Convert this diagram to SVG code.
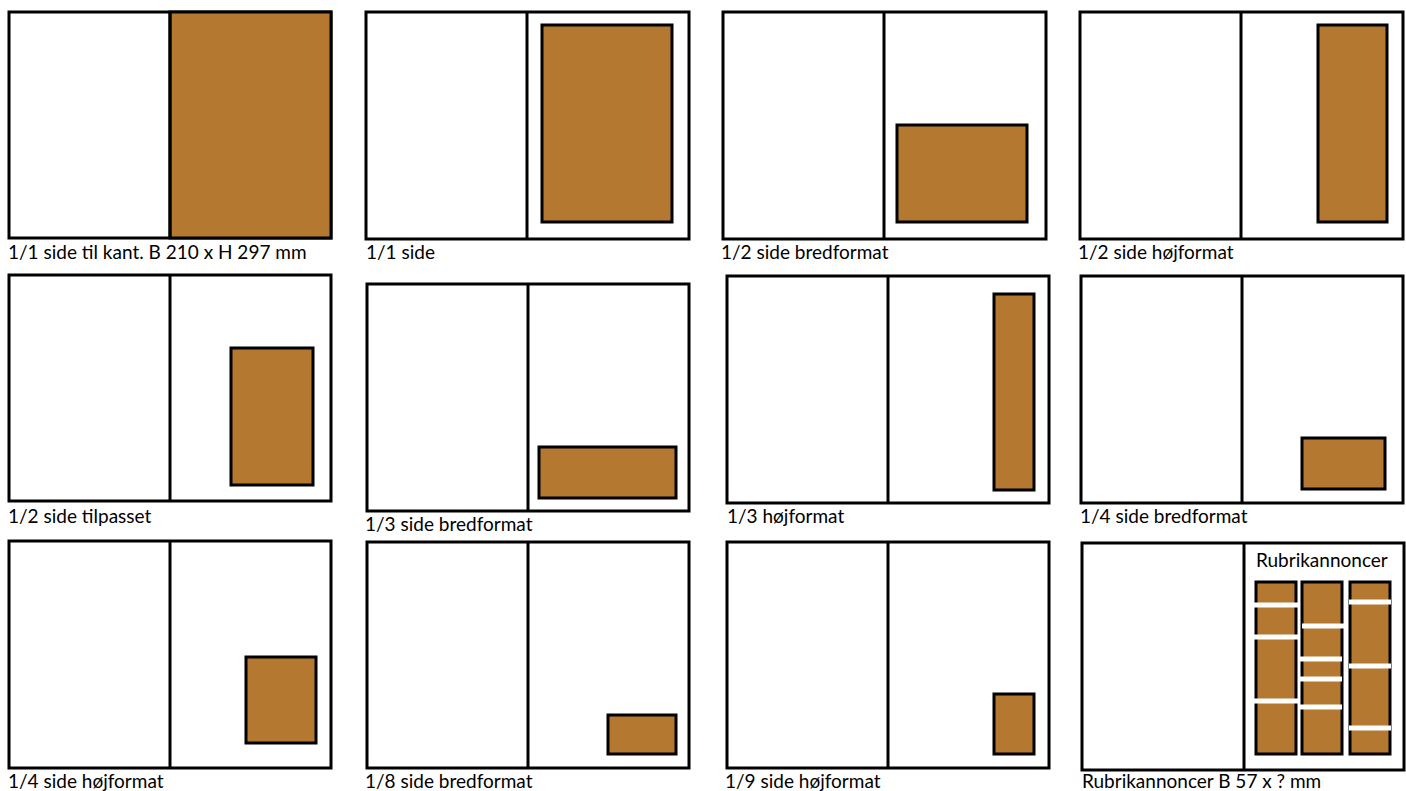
<svg xmlns="http://www.w3.org/2000/svg" width="1406" height="791" viewBox="0 0 1406 791">
<style>
.page{fill:#fff;stroke:#000;stroke-width:3}
.div{stroke:#000;stroke-width:3}
.ad{fill:#B47830;stroke:#000;stroke-width:3}
.cut{stroke:#fff;stroke-width:5}
.lbl{font-family:Lato,"Liberation Sans",sans-serif;font-size:19px;fill:#000}
</style>
<rect width="1406" height="791" fill="#fff"/>
<g id="p1"><rect class="page" x="9" y="12" width="322" height="226"/><rect x="170" y="12" width="161" height="226" fill="#B47830" stroke="#000" stroke-width="3"/><line class="div" x1="170" y1="12" x2="170" y2="238"/><text class="lbl" x="8" y="259">1/1 side til kant. B 210 x H 297 mm</text></g>
<g id="p2"><rect class="page" x="366" y="12" width="323" height="227"/><line class="div" x1="527" y1="12" x2="527" y2="239"/><rect class="ad" x="542" y="25" width="130" height="197"/><text class="lbl" x="366" y="259">1/1 side</text></g>
<g id="p3"><rect class="page" x="723" y="12" width="323" height="227"/><line class="div" x1="884" y1="12" x2="884" y2="239"/><rect class="ad" x="897" y="125" width="130" height="97"/><text class="lbl" x="721" y="259">1/2 side bredformat</text></g>
<g id="p4"><rect class="page" x="1080" y="12" width="323" height="227"/><line class="div" x1="1241" y1="12" x2="1241" y2="239"/><rect class="ad" x="1318" y="25" width="69" height="197"/><text class="lbl" x="1078" y="259">1/2 side højformat</text></g>
<g id="p5"><rect class="page" x="9" y="275" width="322" height="226"/><line class="div" x1="170" y1="275" x2="170" y2="501"/><rect class="ad" x="231" y="348" width="82" height="137"/><text class="lbl" x="8" y="523">1/2 side tilpasset</text></g>
<g id="p6"><rect class="page" x="367" y="284" width="322" height="227"/><line class="div" x1="528" y1="284" x2="528" y2="511"/><rect class="ad" x="539" y="447" width="137" height="51"/><text class="lbl" x="365" y="531">1/3 side bredformat</text></g>
<g id="p7"><rect class="page" x="727" y="276" width="322" height="227"/><line class="div" x1="888" y1="276" x2="888" y2="503"/><rect class="ad" x="994" y="294" width="40" height="196"/><text class="lbl" x="727" y="523">1/3 højformat</text></g>
<g id="p8"><rect class="page" x="1081" y="276" width="322" height="227"/><line class="div" x1="1242" y1="276" x2="1242" y2="503"/><rect class="ad" x="1302" y="438" width="83" height="51"/><text class="lbl" x="1080" y="523">1/4 side bredformat</text></g>
<g id="p9"><rect class="page" x="9" y="541" width="322" height="227"/><line class="div" x1="170" y1="541" x2="170" y2="768"/><rect class="ad" x="246" y="657" width="70" height="86"/><text class="lbl" x="8" y="788">1/4 side højformat</text></g>
<g id="p10"><rect class="page" x="367" y="542" width="322" height="226"/><line class="div" x1="528" y1="542" x2="528" y2="768"/><rect class="ad" x="608" y="715" width="68" height="39"/><text class="lbl" x="365" y="788">1/8 side bredformat</text></g>
<g id="p11"><rect class="page" x="727" y="542" width="322" height="226"/><line class="div" x1="888" y1="542" x2="888" y2="768"/><rect class="ad" x="994" y="694" width="40" height="60"/><text class="lbl" x="725" y="788">1/9 side højformat</text></g>
<g id="p12"><rect class="page" x="1082" y="543" width="322" height="227"/><line class="div" x1="1244" y1="543" x2="1244" y2="770"/><text class="lbl" x="1256" y="567">Rubrikannoncer</text>
<rect class="ad" x="1256" y="582" width="40" height="172"/><rect class="ad" x="1302" y="582" width="40" height="172"/><rect class="ad" x="1350" y="582" width="40" height="172"/>
<line class="cut" x1="1254" y1="605" x2="1298" y2="605"/><line class="cut" x1="1254" y1="637" x2="1298" y2="637"/><line class="cut" x1="1254" y1="701" x2="1298" y2="701"/>
<line class="cut" x1="1302" y1="626" x2="1344" y2="626"/><line class="cut" x1="1300" y1="659" x2="1342" y2="659"/><line class="cut" x1="1300" y1="679" x2="1342" y2="679"/><line class="cut" x1="1300" y1="707" x2="1342" y2="707"/>
<line class="cut" x1="1349" y1="602" x2="1391" y2="602"/><line class="cut" x1="1349" y1="666" x2="1391" y2="666"/><line class="cut" x1="1349" y1="728" x2="1391" y2="728"/>
<text class="lbl" x="1082" y="788">Rubrikannoncer B 57 x ? mm</text></g>
</svg>
